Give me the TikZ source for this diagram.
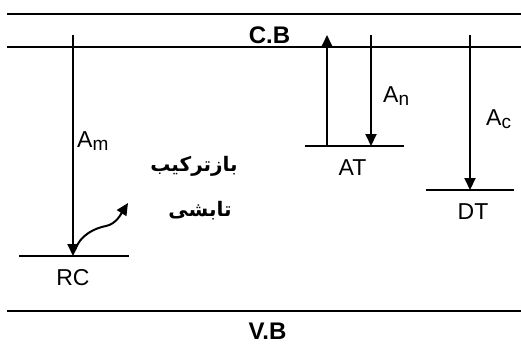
\documentclass[tikz,border=0pt]{standalone}
\usepackage{fontspec}
\setmainfont{Liberation Sans}
\newfontfamily\persianfont[Script=Arabic]{DejaVu Sans}
\TeXXeTstate=1
\usetikzlibrary{arrows.meta}
\newcommand{\sublab}[2]{#1\raisebox{-3pt}{\fontsize{19}{19}\selectfont #2}}

\begin{document}
\begin{tikzpicture}[
  x=1pt, y=-1pt,
  >={Triangle[length=12pt, width=11pt]},
  band/.style={line width=2pt},
  level/.style={line width=2pt},
  trans/.style={->, line width=2pt},
  lab/.style={font=\fontsize{23}{26}\selectfont, inner sep=0pt},
  bandlab/.style={font=\fontsize{24}{27}\selectfont\bfseries, inner sep=0pt},
  fa/.style={font=\fontsize{20}{24}\selectfont\persianfont\bfseries, inner sep=0pt}
]
  \useasboundingbox (0,0) rectangle (521,343);

  % Bands
  \draw[band] (7,14) -- (521,14);
  \draw[band] (7,46.5) -- (521,46.5);
  \draw[band] (7,311) -- (521,311);
  \node[bandlab] (cb) at (269.5,35.5) {C.B};
  \node[bandlab] (vb) at (267.5,331) {V.B};

  % Trap levels
  \coordinate (rcL) at (19,256);  \coordinate (rcR) at (129,256);
  \coordinate (atL) at (305,146); \coordinate (atR) at (404,146);
  \coordinate (dtL) at (426,190); \coordinate (dtR) at (514,190);
  \draw[level] (rcL) -- (rcR);
  \draw[level] (atL) -- (atR);
  \draw[level] (dtL) -- (dtR);
  \node[lab] (rc) at (73,278) {RC};
  \node[lab] (at) at (352.5,167.5) {AT};
  \node[lab] (dt) at (473,211.5) {DT};

  % Transitions
  \coordinate (mTop) at (73,35);   \coordinate (mBot) at (73,256);
  \coordinate (upBot) at (327,146); \coordinate (upTop) at (327,35);
  \coordinate (nTop) at (371,35);  \coordinate (nBot) at (371,146);
  \coordinate (cTop) at (470,35);  \coordinate (cBot) at (470,190);
  \draw[trans] (mTop) -- (mBot);
  \draw[trans] (upBot) -- (upTop);
  \draw[trans] (nTop) -- (nBot);
  \draw[trans] (cTop) -- (cBot);
  \node[lab, anchor=base west] (am) at (77,147) {\sublab{A}{m}};
  \node[lab, anchor=base west] (an) at (383,102) {\sublab{A}{n}};
  \node[lab, anchor=base west] (ac) at (486,125) {\sublab{A}{c}};

  % Emission
  \coordinate (wStart) at (75,250);
  \coordinate (wMid) at (106,226);
  \coordinate (wEnd) at (128,203);
  \draw[trans] (wStart) .. controls (80,235) and (95,228) .. (wMid)
    .. controls (116,224) and (121,214) .. (wEnd);
  \node[fa] (fa1) at (194,166) {\beginR بازترکیب\endR};
  \node[fa] (fa2) at (200,211) {\beginR تابشی\endR};
\end{tikzpicture}
\end{document}
